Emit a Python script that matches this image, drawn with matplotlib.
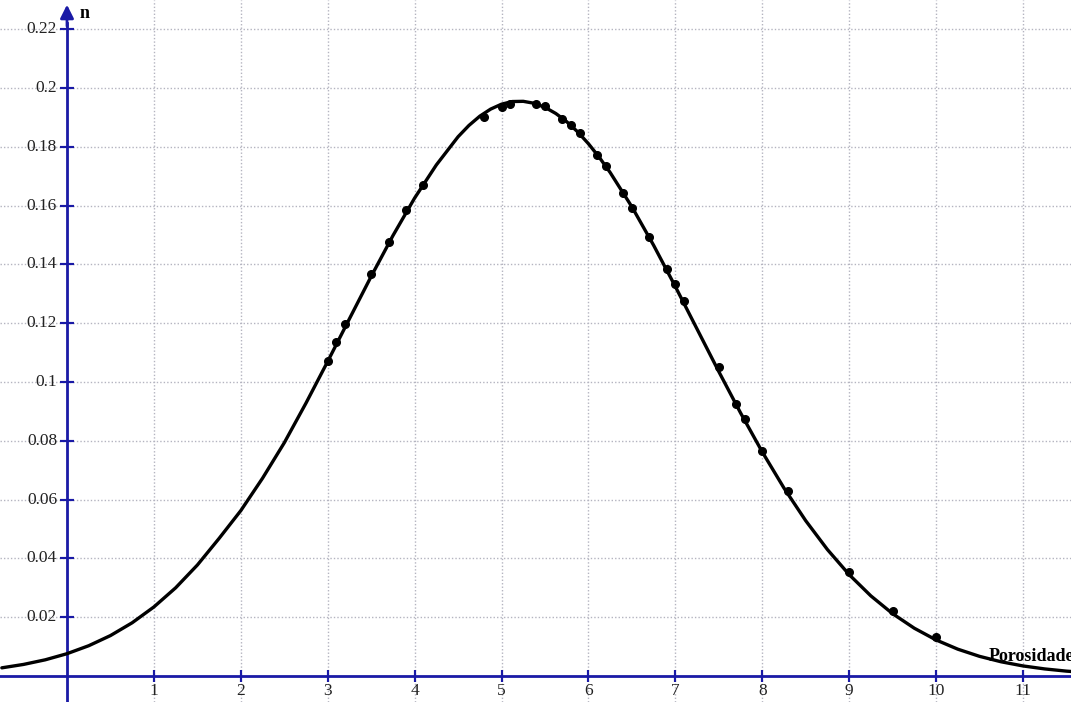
import matplotlib
matplotlib.use("Agg")
import matplotlib.pyplot as plt
import matplotlib.transforms as mtransforms

# ---- data ----
curve_x = [-0.75, -0.5, -0.25, 0.0, 0.25, 0.5, 0.75, 1.0, 1.25, 1.5, 1.75, 2.0,
           2.25, 2.5, 2.75, 3.0, 3.25, 3.5, 3.75, 4.0, 4.25, 4.5, 4.625, 4.75,
           4.875, 5.0, 5.125, 5.25, 5.375, 5.5, 5.625, 5.75, 5.875, 6.0, 6.125,
           6.25, 6.5, 6.75, 7.0, 7.25, 7.5, 7.75, 8.0,
           8.25, 8.5, 8.75, 9.0, 9.25, 9.5, 9.75, 10.0, 10.25, 10.5, 10.75,
           11.0, 11.25, 11.5, 11.75]
curve_y = [0.00278, 0.00394, 0.00551, 0.00759, 0.01030, 0.01375, 0.01811,
           0.02349, 0.02999, 0.03774, 0.04679, 0.05625, 0.06726, 0.07931,
           0.09281, 0.10699, 0.12149, 0.13590, 0.14974, 0.16254, 0.17381,
           0.18339, 0.18724, 0.19039, 0.19280, 0.19447, 0.19537, 0.19544,
           0.19478, 0.19340, 0.19130, 0.18852, 0.18509, 0.18103, 0.17640,
           0.17124, 0.15957, 0.14649, 0.13246, 0.11800, 0.10354, 0.08951,
           0.07622, 0.06393, 0.05283, 0.04301, 0.03449, 0.02725, 0.02120,
           0.01625, 0.01227, 0.00913, 0.00669, 0.00483, 0.00343, 0.00241,
           0.00166, 0.00113]

points_x = [3.0, 3.1, 3.2, 3.5, 3.7, 3.9, 4.1, 4.8, 5.0, 5.1, 5.4, 5.5, 5.7,
            5.8, 5.9, 6.1, 6.2, 6.4, 6.5, 6.7, 6.9, 7.0, 7.1, 7.5, 7.7, 7.8,
            8.0, 8.3, 9.0, 9.5, 10.0]
points_y = [0.1071, 0.1136, 0.1197, 0.1367, 0.1476, 0.1585, 0.1670, 0.1900,
            0.1935, 0.1946, 0.1946, 0.1939, 0.1895, 0.1874, 0.1847, 0.1772,
            0.1735, 0.1643, 0.1592, 0.1493, 0.1384, 0.1333, 0.1276, 0.1050,
            0.0925, 0.0874, 0.0765, 0.0630, 0.0354, 0.0221, 0.0133]

x_ticks = [1, 2, 3, 4, 5, 6, 7, 8, 9, 10, 11]
x_tick_labels = ["1", "2", "3", "4", "5", "6", "7", "8", "9", "10", "11"]
y_ticks = [0.02, 0.04, 0.06, 0.08, 0.1, 0.12, 0.14, 0.16, 0.18, 0.2, 0.22]
y_tick_labels = ["0.02", "0.04", "0.06", "0.08", "0.1", "0.12", "0.14",
                 "0.16", "0.18", "0.2", "0.22"]
x_axis_label = "Porosidade"
y_axis_label = "n"

AXIS_COLOR = "#1a1aa6"
GRID_COLOR = "#b4b4c0"
SERIF = ["Liberation Serif", "DejaVu Serif"]

fig = plt.figure(figsize=(10.71, 7.02), dpi=100)
ax = fig.add_axes([0, 0, 1, 1])
ax.set_xlim(-0.771, 11.553)
ax.set_ylim(-0.00884, 0.2299)
ax.axis("off")

# grid
for gx in x_ticks:
    ax.axvline(gx, color=GRID_COLOR, lw=1.0, ls=(0, (1, 1.5)), zorder=1)
for gy in y_ticks:
    ax.axhline(gy, color=GRID_COLOR, lw=1.0, ls=(0, (1, 1.5)), zorder=1)

# axes lines
ax.axhline(0, color=AXIS_COLOR, lw=2.0, zorder=3)
ax.plot([0, 0], [-0.01, 0.222], color=AXIS_COLOR, lw=2.0, zorder=3)
ax.annotate("", xy=(0, 0.2283), xytext=(0, 0.221),
            arrowprops=dict(arrowstyle="-|>,head_length=0.8,head_width=0.4",
                            color=AXIS_COLOR, lw=2.0, shrinkA=0, shrinkB=0),
            zorder=4)

# tick marks (crossing the axes)
for tx in x_ticks:
    ax.plot([tx, tx], [0, 0], marker="|", ms=9, mew=1.5, color=AXIS_COLOR,
            zorder=3)
for ty in y_ticks:
    ax.plot([0, 0], [ty, ty], marker="_", ms=10, mew=1.5, color=AXIS_COLOR,
            zorder=3)

# tick labels
tx_off = mtransforms.offset_copy(ax.transData, fig=fig, x=0, y=-15, units="dots")
for tx, lab in zip(x_ticks, x_tick_labels):
    ax.text(tx, 0, lab, transform=tx_off, ha="center", va="center",
            fontsize=12.5, family=SERIF, color="#222222", zorder=5)
ty_off = mtransforms.offset_copy(ax.transData, fig=fig, x=-10, y=0, units="dots")
for ty, lab in zip(y_ticks, y_tick_labels):
    ax.text(0, ty, lab, transform=ty_off, ha="right", va="center",
            fontsize=12.5, family=SERIF, color="#222222", zorder=5)

# axis labels
ax.text(0.15, 0.2238, y_axis_label, ha="left", va="baseline", fontsize=13,
        family=SERIF, fontweight="bold", color="black", zorder=5)
ax.text(10.6, 0.0068, x_axis_label, ha="left", va="center", fontsize=13,
        family=SERIF, fontweight="bold", color="black", zorder=5,
        clip_on=False)

# curve and points
ax.plot(curve_x, curve_y, color="black", lw=2.4, zorder=6,
        solid_capstyle="round", solid_joinstyle="round")
ax.plot(points_x, points_y, "o", color="black", ms=5.5, zorder=7)

fig.savefig("out.png", dpi=100)
